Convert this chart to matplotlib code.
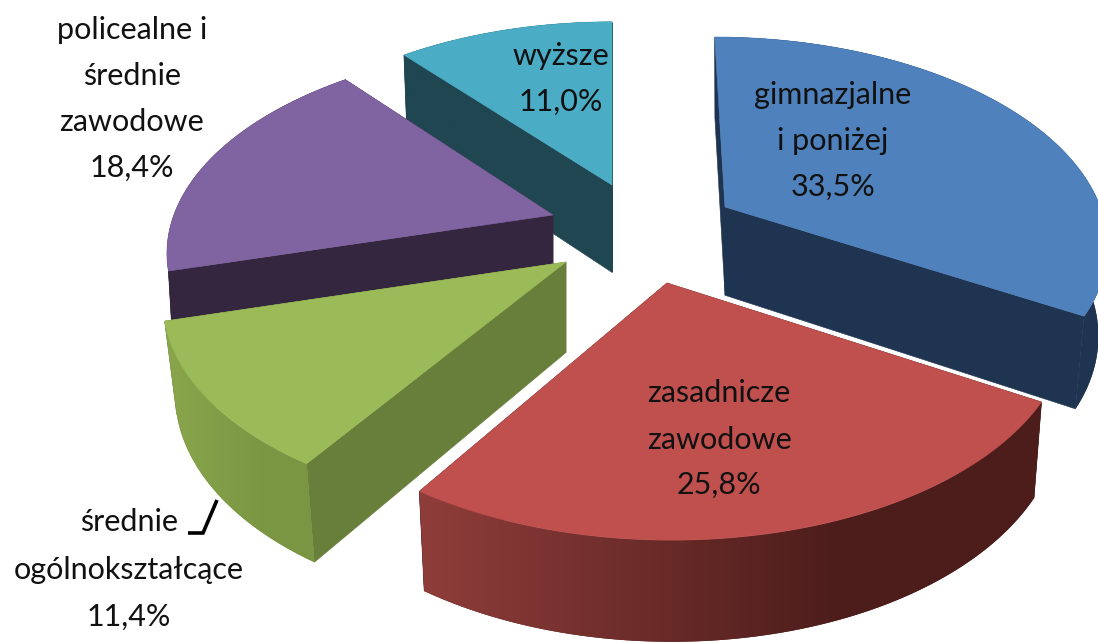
import numpy as np
import matplotlib
matplotlib.use("Agg")
import matplotlib.pyplot as plt
from matplotlib.patches import Polygon
from matplotlib.colors import LinearSegmentedColormap

categories = ["gimnazjalne\ni poniżej", "zasadnicze\nzawodowe", "średnie\nogólnokształcące",
              "policealne i\nśrednie\nzawodowe", "wyższe"]
values = [33.5, 25.8, 11.4, 18.4, 11.0]

top_colors = ["#4F81BD", "#BF504D", "#9BBB59", "#8064A2", "#4BACC6"]
face_colors = ["#1F3450", "#4E1F1D", "#687F3B", "#35263F", "#1F4651"]
wall_left = ["#1F3450", "#8F3D3A", "#8AA64C", "#35263F", "#1F4651"]
wall_right = ["#1F3450", "#4C1D1B", "#7A9643", "#35263F", "#1F4651"]

# layout of the exploded perspective pie, in pixels of the figure
apex_x = [725, 667, 566, 553, 612]
apex_y = [207, 283, 262, 215, 185]
scale_x = [0.98, 1.035, 1.035, 0.99, 0.96]
scale_y = [1.0, 1.09, 1.055, 1.0, 0.96]
skew = [-12, -4, 8, 10, 0]
taper = [0.024, 0.02, 0.03, 0.014, 0.015]
RX, RY, PERSP = 383.0, 197.6, 0.1625
draw_order = [4, 3, 0, 2, 1]
label_pos = [(833, [95, 141, 187]), (719, [393, 440, 485]), (129, [522, 570, 617]),
             (132, [30, 76, 122, 168]), (561, [56, 102])]
FONT = "Lato"
FS = 22

W, H = 1098, 642
fig = plt.figure(figsize=(W / 100, H / 100), dpi=100)
ax = fig.add_axes([0, 0, 1, 1])
ax.set_xlim(0, W)
ax.set_ylim(H, 0)
ax.axis("off")

shares = np.array(values) / np.sum(values)
edges = np.concatenate([[0], np.cumsum(shares)]) * 2 * np.pi


def rim(i, th):
    X, Y = np.sin(th), np.cos(th)
    w = 1 + PERSP * Y
    return (apex_x[i] + (scale_x[i] * RX * X + skew[i] * Y) / w,
            apex_y[i] - scale_y[i] * RY * Y / w)


def below(i, x, y):
    d = 90 + (np.asarray(y) - 250) * 0.04
    return np.asarray(x) - taper[i] * (np.asarray(x) - apex_x[i]), np.asarray(y) + d


def poly(xs, ys, c, z):
    ax.add_patch(Polygon(np.column_stack([xs, ys]), closed=True, facecolor=c,
                         edgecolor=c, linewidth=0.4, zorder=z))


for z, i in enumerate(draw_order):
    th = np.linspace(edges[i], edges[i + 1], 121)
    x, y = rim(i, th)
    xb, yb = below(i, x, y)
    ax_, ay_ = below(i, apex_x[i], apex_y[i])
    base = z * 10
    for k in (0, -1):
        poly([apex_x[i], x[k], xb[k], ax_], [apex_y[i], y[k], yb[k], ay_], face_colors[i], base)
    # outer wall, shaded from left to right
    wall = Polygon(np.column_stack([np.r_[x, xb[::-1]], np.r_[y, yb[::-1]]]), closed=True,
                   facecolor=wall_right[i], edgecolor="none", zorder=base + 1)
    ax.add_patch(wall)
    cmap = LinearSegmentedColormap.from_list(
        "w", [(0, wall_left[i]), (0.68, wall_right[i]), (1, wall_right[i])])
    xl, xr = min(x.min(), xb.min()), max(x.max(), xb.max())
    yt, ybm = min(y.min(), yb.min()), max(y.max(), yb.max())
    im = ax.imshow(np.linspace(0, 1, 256)[None, :], cmap=cmap, aspect="auto",
                   extent=(xl, xr, ybm, yt), zorder=base + 1, interpolation="bilinear")
    im.set_clip_path(wall)
    poly(np.r_[apex_x[i], x], np.r_[apex_y[i], y], top_colors[i], base + 2)

ax.set_xlim(0, W)
ax.set_ylim(H, 0)

# leader line of the green slice
ax.plot([188, 203, 217], [533, 533, 500], color="black", lw=2.6, zorder=90,
        solid_joinstyle="miter", solid_capstyle="butt")

for (cx, ys), cat, v in zip(label_pos, categories, values):
    lines = cat.split("\n") + [f"{v:.1f}%".replace(".", ",")]
    for yy, line in zip(ys, lines):
        ax.text(cx, yy, line, ha="center", va="center", fontsize=FS, family=FONT,
                color="#111111", zorder=100)

fig.savefig("out.png", dpi=100)
